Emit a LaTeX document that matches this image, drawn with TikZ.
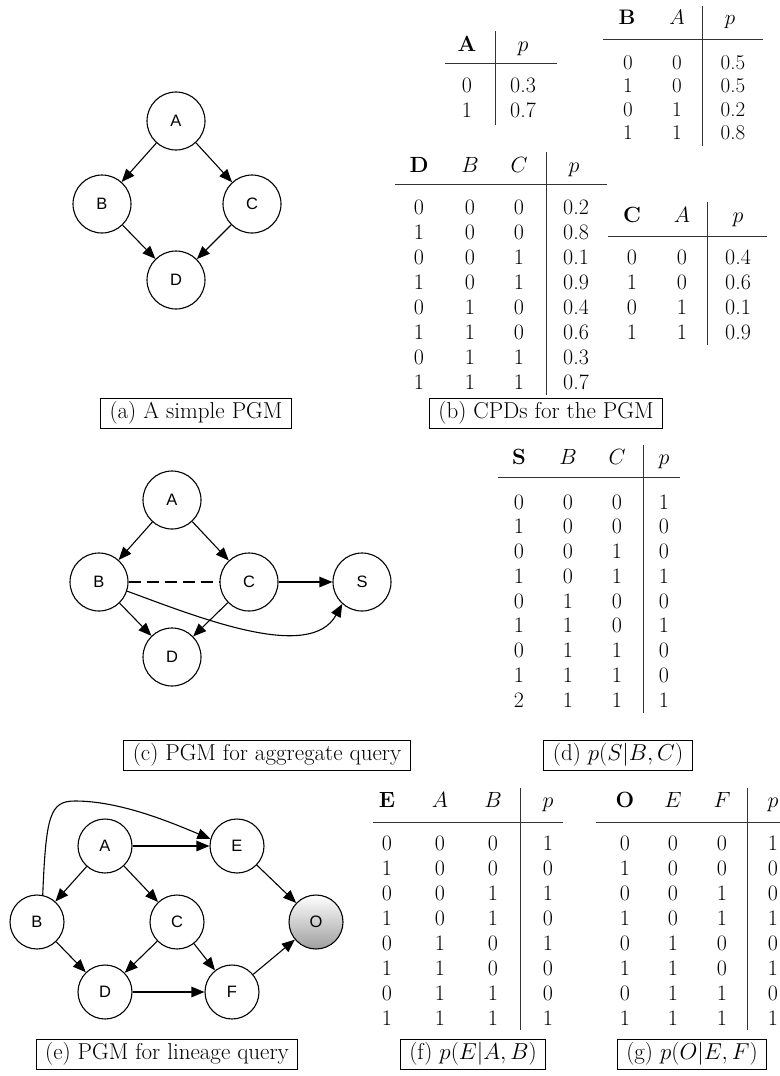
\documentclass[tikz,border=0pt]{standalone}
\usepackage{fix-cm}
\usepackage{fontspec}
\newfontfamily\nodefont{Liberation Sans}
\usetikzlibrary{arrows.meta}

\begin{document}
\begin{tikzpicture}[x=1pt,y=-1pt,
  pgmvar/.style={circle, draw, fill=white, line width=1.1pt, minimum size=58pt, inner sep=0pt,
              font=\nodefont\fontsize{16.5}{16.5}\selectfont},
  pgmvarsm/.style={pgmvar, minimum size=54pt},
  pgmobs/.style={pgmvarsm, top color=white, bottom color=black!38},
  deparrow/.style={line width=1.1pt, -{Triangle[length=13pt,width=10.5pt]}},
  undirline/.style={line width=1.1pt, dash pattern=on 12pt off 6pt},
  capbox/.style={draw, line width=0.8pt, inner xsep=9pt, inner ysep=3.5pt,
              text height=17pt, text depth=6pt, font=\fontsize{23}{27}\selectfont},
  tabcell/.style={anchor=base, inner sep=0pt, font=\fontsize{22}{25}\selectfont},
  tabcellb/.style={tabcell, font=\fontsize{21}{24}\selectfont},
  tabrule/.style={line width=1pt, draw=black!80},
]
\useasboundingbox (0,0) rectangle (779,1076);

% ---------------- (a) simple PGM ----------------
\node[pgmvar] (aA) at (176,121) {A};
\node[pgmvar] (aB) at (102,204) {B};
\node[pgmvar] (aC) at (252,204) {C};
\node[pgmvar] (aD) at (176,280) {D};
\draw[deparrow] (aA) -- (aB);
\draw[deparrow] (aA) -- (aC);
\draw[deparrow] (aB) -- (aD);
\draw[deparrow] (aC) -- (aD);
\node[capbox] (capa) at (196,413) {(a) A simple PGM};

% ---------------- (b) CPDs ----------------
% table for A
\node[tabcell] (tA-0-1) at (467,51) {\textbf{A}};
\node[tabcell] (tA-0-2) at (523,51) {$p$};
\foreach \a/\p [count=\i] in {0/0.3, 1/0.7} {
  \node[tabcell] (tA-\i-1) at (467,{92+25*(\i-1)}) {\a};
  \node[tabcell] (tA-\i-2) at (523,{92+25*(\i-1)}) {\p};
}
\draw[tabrule] (445,63) -- (557,63);
\draw[tabrule] (495,31) -- (495,125);

% table for B
\node[tabcellb] (tB-0-1) at (627,24) {\textbf{B}};
\node[tabcellb] (tB-0-2) at (677,24) {$A$};
\node[tabcellb] (tB-0-3) at (730,24) {$p$};
\foreach \b/\a/\p [count=\i] in {0/0/0.5, 1/0/0.5, 0/1/0.2, 1/1/0.8} {
  \node[tabcellb] (tB-\i-1) at (628,{69+23.5*(\i-1)}) {\b};
  \node[tabcellb] (tB-\i-2) at (677,{69+23.5*(\i-1)}) {\a};
  \node[tabcellb] (tB-\i-3) at (733,{69+23.5*(\i-1)}) {\p};
}
\draw[tabrule] (603,39) -- (763,39);
\draw[tabrule] (702,6) -- (702,146);

% table for D
\node[tabcell] (tD-0-1) at (419,172) {\textbf{D}};
\node[tabcell] (tD-0-2) at (470,172) {$B$};
\node[tabcell] (tD-0-3) at (519,172) {$C$};
\node[tabcell] (tD-0-4) at (574,172) {$p$};
\foreach \d/\b/\c/\p [count=\i] in {0/0/0/0.2, 1/0/0/0.8, 0/0/1/0.1, 1/0/1/0.9,
                                    0/1/0/0.4, 1/1/0/0.6, 0/1/1/0.3, 1/1/1/0.7} {
  \node[tabcell] (tD-\i-1) at (419,{214+25*(\i-1)}) {\d};
  \node[tabcell] (tD-\i-2) at (470,{214+25*(\i-1)}) {\b};
  \node[tabcell] (tD-\i-3) at (519,{214+25*(\i-1)}) {\c};
  \node[tabcell] (tD-\i-4) at (576,{214+25*(\i-1)}) {\p};
}
\draw[tabrule] (395,184) -- (607,184);
\draw[tabrule] (546,152) -- (546,395);

% table for C
\node[tabcell] (tC-0-1) at (632,222) {\textbf{C}};
\node[tabcell] (tC-0-2) at (682,222) {$A$};
\node[tabcell] (tC-0-3) at (738,222) {$p$};
\foreach \c/\a/\p [count=\i] in {0/0/0.4, 1/0/0.6, 0/1/0.1, 1/1/0.9} {
  \node[tabcell] (tC-\i-1) at (632,{264+25*(\i-1)}) {\c};
  \node[tabcell] (tC-\i-2) at (682,{264+25*(\i-1)}) {\a};
  \node[tabcell] (tC-\i-3) at (738,{264+25*(\i-1)}) {\p};
}
\draw[tabrule] (608,236) -- (767,236);
\draw[tabrule] (707,202) -- (707,345);

\node[capbox] (capb) at (546,413) {(b) CPDs for the PGM};

% ---------------- (c) aggregate query ----------------
\node[pgmvar] (cA) at (172,500) {A};
\node[pgmvar] (cB) at (99,582) {B};
\node[pgmvar] (cC) at (249,582) {C};
\node[pgmvar] (cS) at (362,582) {S};
\node[pgmvar] (cD) at (172,657) {D};
\draw[deparrow] (cA) -- (cB);
\draw[deparrow] (cA) -- (cC);
\draw[deparrow] (cB) -- (cD);
\draw[deparrow] (cC) -- (cD);
\draw[deparrow] (cC) -- (cS);
\draw[undirline] (cB) -- (cC);
\draw[deparrow] (cB.-18) .. controls (200,618) and (310,662) .. (cS.-132);
\node[capbox] (capc) at (267,755) {(c) PGM for aggregate query};

% ---------------- (d) p(S|B,C) ----------------
\node[tabcell] (tS-0-1) at (519,464) {\textbf{S}};
\node[tabcell] (tS-0-2) at (568,464) {$B$};
\node[tabcell] (tS-0-3) at (617,464) {$C$};
\node[tabcell] (tS-0-4) at (664,464) {$p$};
\foreach \s/\b/\c/\p [count=\i] in {0/0/0/1, 1/0/0/0, 0/0/1/0, 1/0/1/1, 0/1/0/0,
                                    1/1/0/1, 0/1/1/0, 1/1/1/0, 2/1/1/1} {
  \node[tabcell] (tS-\i-1) at (519,{509+24.75*(\i-1)}) {\s};
  \node[tabcell] (tS-\i-2) at (568,{509+24.75*(\i-1)}) {\b};
  \node[tabcell] (tS-\i-3) at (617,{509+24.75*(\i-1)}) {\c};
  \node[tabcell] (tS-\i-4) at (664,{509+24.75*(\i-1)}) {\p};
}
\draw[tabrule] (498,477) -- (680,477);
\draw[tabrule] (643,445) -- (643,713);
\node[capbox] (capd) at (618,755) {(d) $p(S|B,C)$};

% ---------------- (e) lineage query ----------------
\node[pgmvarsm] (eA) at (105,846) {A};
\node[pgmvarsm] (eE) at (237,846) {E};
\node[pgmvarsm] (eB) at (37,922) {B};
\node[pgmvarsm] (eC) at (177,922) {C};
\node[pgmobs]   (eO) at (316,922) {O};
\node[pgmvarsm] (eD) at (105,992) {D};
\node[pgmvarsm] (eF) at (232,992) {F};
\draw[deparrow] (eA) -- (eE);
\draw[deparrow] (eA) -- (eB);
\draw[deparrow] (eA) -- (eC);
\draw[deparrow] (eB) -- (eD);
\draw[deparrow] (eC) -- (eD);
\draw[deparrow] (eC) -- (eF);
\draw[deparrow] (eD) -- (eF);
\draw[deparrow] (eE) -- (eO);
\draw[deparrow] (eF) -- (eO);
\draw[deparrow] (eB.78) .. controls (46,815) and (50,801) .. (75,801)
                   .. controls (120,801) and (170,822) .. (eE.165);
\node[capbox] (cape) at (167,1054) {(e) PGM for lineage query};

% ---------------- (f) p(E|A,B) ----------------
\node[tabcell] (tE-0-1) at (387,807) {\textbf{E}};
\node[tabcell] (tE-0-2) at (440,807) {$A$};
\node[tabcell] (tE-0-3) at (493,807) {$B$};
\node[tabcell] (tE-0-4) at (548,807) {$p$};
\foreach \e/\a/\b/\p [count=\i] in {0/0/0/1, 1/0/0/0, 0/0/1/1, 1/0/1/0,
                                    0/1/0/1, 1/1/0/0, 0/1/1/0, 1/1/1/1} {
  \node[tabcell] (tE-\i-1) at (387,{850+25*(\i-1)}) {\e};
  \node[tabcell] (tE-\i-2) at (440,{850+25*(\i-1)}) {\a};
  \node[tabcell] (tE-\i-3) at (493,{850+25*(\i-1)}) {\b};
  \node[tabcell] (tE-\i-4) at (548,{850+25*(\i-1)}) {\p};
}
\draw[tabrule] (373,822) -- (563,822);
\draw[tabrule] (520,788) -- (520,1030);
\node[capbox] (capf) at (473,1054) {(f) $p(E|A,B)$};

% ---------------- (g) p(O|E,F) ----------------
\node[tabcell] (tO-0-1) at (625,807) {\textbf{O}};
\node[tabcell] (tO-0-2) at (673,807) {$E$};
\node[tabcell] (tO-0-3) at (722,807) {$F$};
\node[tabcell] (tO-0-4) at (773,807) {$p$};
\foreach \o/\e/\f/\p [count=\i] in {0/0/0/1, 1/0/0/0, 0/0/1/0, 1/0/1/1,
                                    0/1/0/0, 1/1/0/1, 0/1/1/0, 1/1/1/1} {
  \node[tabcell] (tO-\i-1) at (625,{850+25*(\i-1)}) {\o};
  \node[tabcell] (tO-\i-2) at (673,{850+25*(\i-1)}) {\e};
  \node[tabcell] (tO-\i-3) at (722,{850+25*(\i-1)}) {\f};
  \node[tabcell] (tO-\i-4) at (773,{850+25*(\i-1)}) {\p};
}
\draw[tabrule] (596,822) -- (800,822);
\draw[tabrule] (747,788) -- (747,1030);
\node[capbox] (capg) at (692,1054) {(g) $p(O|E,F)$};

\end{tikzpicture}
\end{document}
